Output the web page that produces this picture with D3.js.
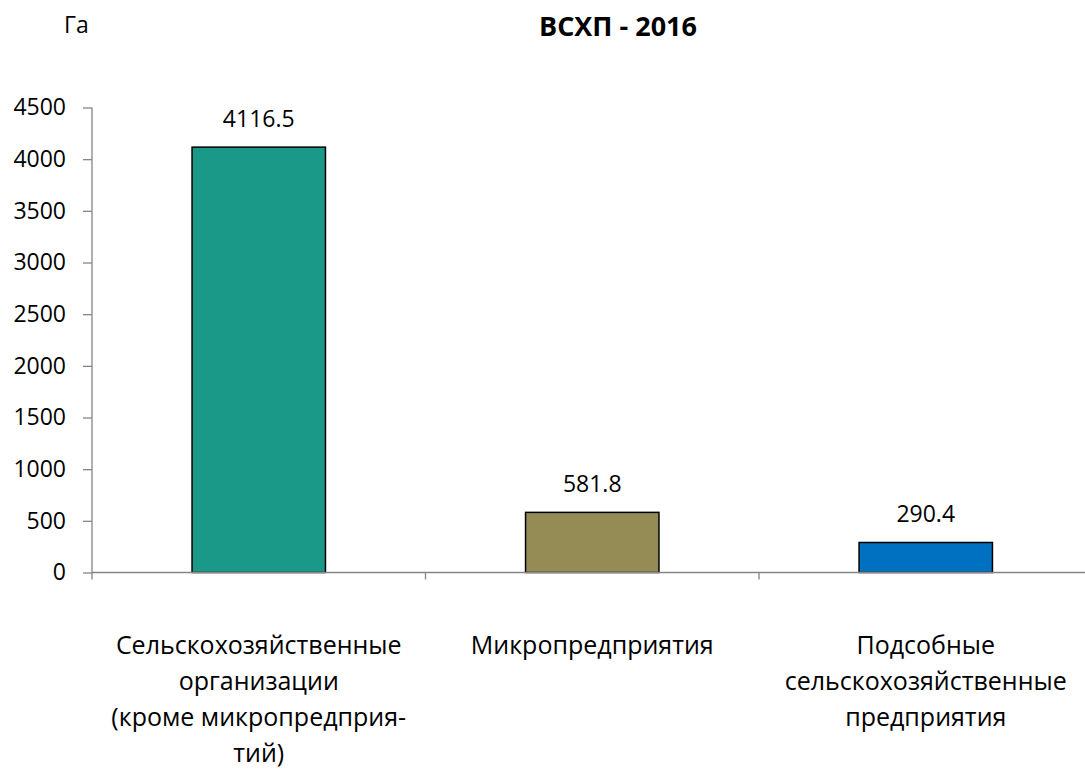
<!DOCTYPE html>
<html>
<head>
<meta charset="utf-8">
<script src="https://cdn.jsdelivr.net/npm/d3@7"></script>
<style>
  body { margin: 0; background: #fff; }
  text { font-family: "Open Sans", "Noto Sans", sans-serif; fill: #000; }
</style>
</head>
<body>
<svg id="chart" width="1085" height="771"></svg>
<script>
const categories = ["Сельскохозяйственные организации (кроме микропредприятий)", "Микропредприятия", "Подсобные сельскохозяйственные предприятия"];
const categoryLines = [
  ["Сельскохозяйственные", "организации", "(кроме микропредприя-", "тий)"],
  ["Микропредприятия"],
  ["Подсобные", "сельскохозяйственные", "предприятия"]
];
const values = [4116.5, 581.8, 290.4];
const barColors = ["#1A9888", "#948B55", "#0070C0"];
const yTicks = [0, 500, 1000, 1500, 2000, 2500, 3000, 3500, 4000, 4500];
const title = "ВСХП - 2016";
const unitLabel = "Га";

const svg = d3.select("#chart");
const pLeft = 92, pRight = 1092.5, pTop = 107.5, pBottom = 572.5;

const x = d3.scaleBand().domain(categories).range([pLeft, pRight]).paddingInner(0.6).paddingOuter(0.3);
const y = d3.scaleLinear().domain([0, 4500]).range([pBottom, pTop]);

// Y axis
const yAxis = d3.axisLeft(y).tickValues(yTicks).tickSize(9).tickPadding(17).tickFormat(d3.format("d"));
const gy = svg.append("g").attr("transform", `translate(${pLeft},0)`).call(yAxis);
gy.select(".domain").attr("stroke", "#868686").attr("stroke-width", 1.3).attr("d", `M0,${pTop}V${pBottom}`);
gy.selectAll(".tick line").attr("stroke", "#868686").attr("stroke-width", 1.3);
gy.selectAll(".tick text").style("font-size", "23px").style("font-family", '"Open Sans", sans-serif').attr("fill", "#000");

// Bars
svg.append("g").selectAll("rect").data(values).join("rect")
  .attr("x", (d, i) => x(categories[i]))
  .attr("y", d => y(d))
  .attr("width", x.bandwidth())
  .attr("height", d => y(0) - y(d))
  .attr("fill", (d, i) => barColors[i])
  .attr("stroke", "#000")
  .attr("stroke-width", 1.5);

// X axis line and ticks
const boundaries = d3.range(categories.length + 1).map(i => pLeft + i * (pRight - pLeft) / categories.length);
svg.append("line").attr("x1", pLeft).attr("x2", 1085).attr("y1", pBottom).attr("y2", pBottom)
  .attr("stroke", "#868686").attr("stroke-width", 1.5);
svg.append("g").selectAll("line").data(boundaries).join("line")
  .attr("x1", d => d).attr("x2", d => d).attr("y1", pBottom).attr("y2", pBottom + 7)
  .attr("stroke", "#868686").attr("stroke-width", 1.3);

// Value labels
svg.append("g").selectAll("text").data(values).join("text")
  .attr("x", (d, i) => x(categories[i]) + x.bandwidth() / 2)
  .attr("y", d => y(d) - 20)
  .attr("text-anchor", "middle")
  .style("font-size", "23px")
  .text(d => d3.format(".1f")(d));

// Category labels
const catG = svg.append("g");
categoryLines.forEach((lines, i) => {
  const cx = x(categories[i]) + x.bandwidth() / 2;
  lines.forEach((ln, j) => {
    catG.append("text")
      .attr("x", cx)
      .attr("y", 654 + j * 36)
      .attr("text-anchor", "middle")
      .style("font-size", "25px")
      .text(ln);
  });
});

// Title
svg.append("text").attr("x", 618).attr("y", 36).attr("text-anchor", "middle")
  .style("font-size", "27px").style("font-weight", "bold").text(title);

// Unit label
svg.append("text").attr("x", 64).attr("y", 33).style("font-size", "23px").text(unitLabel);
</script>
</body>
</html>
